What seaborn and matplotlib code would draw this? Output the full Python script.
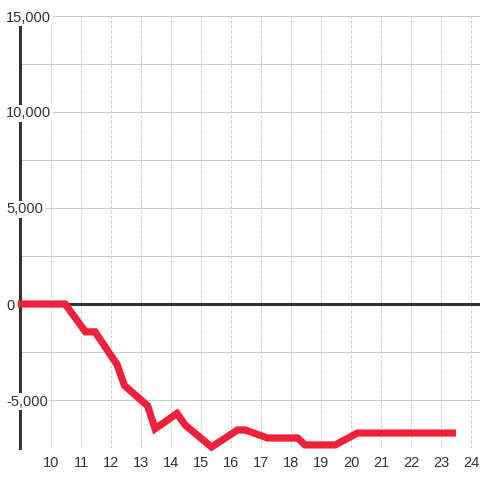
import matplotlib
matplotlib.use("Agg")
import matplotlib.pyplot as plt
import seaborn as sns
import pandas as pd

# data
hours = [8.9, 10.47, 11.15, 11.47, 12.2, 12.45, 13.22, 13.47, 14.2, 14.47,
         15.35, 16.22, 16.47, 17.22, 18.22, 18.47, 19.47, 20.22, 23.5]
values = [0, 0, -1450, -1450, -3150, -4250, -5300, -6500, -5700, -6300,
          -7450, -6560, -6560, -6980, -6980, -7340, -7340, -6720, -6720]

x_ticks = list(range(10, 25))
y_ticks = [-5000, 0, 5000, 10000, 15000]
y_labels = ["-5,000", "0", "5,000", "10,000", "15,000"]
y_grid = [-7500, -5000, -2500, 0, 2500, 5000, 7500, 10000, 12500, 15000]

df = pd.DataFrame({"hour": hours, "value": values})

sns.set_style("white")
plt.rcParams["font.family"] = ["Liberation Sans", "DejaVu Sans"]

fig = plt.figure(figsize=(4.8, 4.8), dpi=100)
ax = fig.add_axes([20 / 480, 32 / 480, 460 / 480, 432 / 480])

for g in y_grid:
    ax.axhline(g, color="#cccccc", lw=0.75, zorder=1)
for t in x_ticks:
    ax.axvline(t, color="#cfcfcf", lw=0.72, ls=(0, (3, 2)), zorder=1)
ax.axhline(0, color="#333333", lw=2.2, zorder=2.6)

sns.lineplot(data=df, x="hour", y="value", color="#ee2138", lw=5.2,
             estimator=None, sort=False, ax=ax, zorder=3,
             solid_joinstyle="miter", solid_capstyle="butt")
for ln in ax.lines[-1:]:
    ln.set_clip_on(False)

ax.set_xlim(8.967, 24.3)
ax.set_ylim(-7500, 15000)
ax.set_xticks(x_ticks)
ax.set_xticklabels([str(t) for t in x_ticks])
ax.set_yticks(y_ticks)
ax.set_yticklabels(y_labels)
ax.set_xlabel("")
ax.set_ylabel("")
ax.grid(False)

for side in ["top", "right", "bottom"]:
    ax.spines[side].set_visible(False)
ax.spines["left"].set_color("#333333")
ax.spines["left"].set_linewidth(2.2)

ax.tick_params(axis="x", length=0, pad=6, labelsize=10.5, labelcolor="#333333")
ax.tick_params(axis="y", length=0, pad=10, labelsize=10.5, labelcolor="#333333")
for lab in ax.get_yticklabels():
    lab.set_horizontalalignment("left")
    lab.set_bbox(dict(facecolor="white", edgecolor="none", pad=1.2))
ax.yaxis.set_zorder(4)

fig.savefig("out.png", dpi=100)
